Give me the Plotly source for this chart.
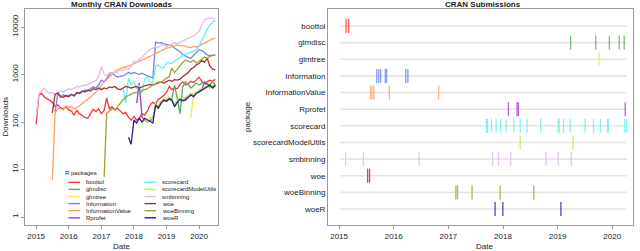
import pandas as pd
import plotly.graph_objects as go

# ---------------- data ----------------
packages = ["boottol", "glmdisc", "glmtree", "Information", "InformationValue", "Rprofet",
            "scorecard", "scorecardModelUtils", "smbinning", "woe", "woeBinning", "woeR"]
colors = ["#FF3333", "#55B055", "#FFE24D", "#6B87E8", "#FFA060", "#A63CC8",
          "#66F0F0", "#C4F020", "#E6B8F5", "#A03232", "#A3A334", "#22228C"]

# first month of monthly download series (all end 2020-07)
start_month = {
    "boottol": "2015-01", "glmdisc": "2019-03", "glmtree": "2019-10", "Information": "2015-08",
    "InformationValue": "2015-07", "Rprofet": "2018-02", "scorecard": "2017-09",
    "scorecardModelUtils": "2018-04", "smbinning": "2015-01", "woe": "2015-07",
    "woeBinning": "2017-02", "woeR": "2017-11",
}

dl_boottol = [90, 370, 400, 340, 310, 290, 260, 210, 230, 200, 190, 210,
              180, 170, 140, 175, 150, 135, 125, 120, 150, 185, 165, 190,
              150, 175, 320, 190, 210, 180, 195, 170, 150, 160, 125, 110,
              130, 110, 120, 150, 140, 170, 230, 260, 240, 300, 330, 360,
              420, 560, 480, 520, 500, 620, 700, 600, 640, 720, 680, 760,
              880, 720, 650, 700, 760, 720, 790]
dl_glmdisc = [300, 600, 320, 150, 550, 700, 620, 520, 580, 660,
              600, 640, 700, 650, 600, 700, 600]
dl_glmtree = [120, 380, 420,
              450, 500, 480, 560, 520, 600, 580]
dl_information = [160, 400, 330, 380, 350,
                  360, 380, 350, 400, 420, 430, 470, 450, 500, 550, 520, 600,
                  760, 700, 820, 1000, 1100, 950, 880, 900, 950, 1000, 1100, 1050,
                  1100, 1050, 1000, 1070, 1000, 950, 900, 840, 4800, 4600, 4700, 4400,
                  4300, 4200, 4000, 3600, 3300, 3000, 2600, 2400, 2300, 2200, 2500, 2800,
                  3300, 3200, 2900, 2600, 2500, 2600, 2600]
dl_informationvalue = [6, 150, 200, 190, 180, 220,
                       200, 210, 190, 200, 220, 250, 270, 300, 330, 380, 420, 480,
                       600, 700, 800, 900, 1000, 1150, 1250, 1350, 1400, 1450, 1500, 1600,
                       1700, 1800, 1900, 2000, 2100, 2200, 2400, 2600, 2800, 3000, 3200, 3400,
                       3600, 3700, 3800, 4000, 4200, 4100, 4000, 3900, 3800, 3700, 3900, 3800,
                       4000, 4300, 4600, 5000, 5300, 5600, 5800]
dl_rprofet = [250, 660, 128, 110, 100, 105, 120, 230, 210, 260, 280,
              290, 300, 290, 220, 270, 310, 300, 310, 340, 380, 360, 420,
              450, 500, 660, 600, 550, 540, 560]
dl_scorecard = [520, 250, 840, 600,
                700, 500, 600, 400, 800, 900, 700, 660, 1500, 1600, 1400, 1370,
                1800, 1750, 1700, 1900, 2100, 2300, 2500, 2700, 2800, 3000, 3100, 3300,
                4000, 5300, 7000, 9000, 11000, 12500, 14000]
dl_scorecardmodelutils = [87, 120, 95, 128, 110, 240, 220, 270, 300,
                          320, 340, 300, 230, 280, 320, 300, 330, 360, 400, 380, 430,
                          460, 500, 550, 580, 520, 560, 550]
dl_smbinning = [130, 400, 450, 520, 430, 400, 420, 380, 400, 450, 430, 470,
                500, 480, 520, 560, 540, 600, 580, 620, 650, 700, 750, 900,
                1450, 1000, 950, 1100, 1050, 1150, 1100, 1250, 1200, 1400, 1300, 1500,
                1900, 1800, 2100, 2300, 2600, 2900, 3400, 3600, 3900, 3700, 4200, 4300,
                3900, 4100, 4300, 4600, 4500, 4800, 5000, 5400, 5800, 6000, 6500, 7200,
                8000, 11000, 14000, 15000, 15500, 15000, 15200]
dl_woe = [155, 380, 410, 350, 330, 360,
          340, 380, 360, 420, 400, 450, 430, 470, 450, 500, 480, 520,
          480, 520, 500, 550, 530, 560, 500, 480, 520, 560, 540, 520,
          540, 560, 520, 560, 580, 600, 620, 600, 640, 660, 700, 660,
          700, 760, 720, 780, 760, 800, 900, 1000, 1100, 1300, 1400, 1600,
          1700, 2000, 1800, 2200, 1500, 1300, 1250]
dl_woebinning = [7, 150, 170, 190, 180, 210, 250, 300, 340, 360, 390,
                 410, 420, 430, 460, 480, 500, 550, 600, 650, 700, 680, 760,
                 840, 900, 1370, 1100, 1300, 1500, 1800, 2000, 1900, 1800, 2000, 1750,
                 1900, 2100, 2300, 2200, 2400, 2500, 2600]
dl_woer = [48, 34,
           110, 95, 120, 100, 120, 110, 100, 95, 230, 195, 250, 290,
           270, 310, 290, 210, 260, 300, 280, 290, 330, 370, 340, 400,
           430, 470, 500, 560, 600, 520, 600]

downloads = {
    "boottol": dl_boottol, "glmdisc": dl_glmdisc, "glmtree": dl_glmtree,
    "Information": dl_information, "InformationValue": dl_informationvalue,
    "Rprofet": dl_rprofet, "scorecard": dl_scorecard,
    "scorecardModelUtils": dl_scorecardmodelutils, "smbinning": dl_smbinning,
    "woe": dl_woe, "woeBinning": dl_woebinning, "woeR": dl_woer,
}

# CRAN submission dates
sub_boottol = ["2015-02-17", "2015-03-06"]
sub_glmdisc = ["2019-03-29", "2019-09-13", "2019-12-13", "2020-02-17", "2020-03-21"]
sub_glmtree = ["2019-10-05"]
sub_information = ["2015-09-10", "2015-09-23", "2015-10-06", "2015-11-06", "2015-11-15",
                   "2016-03-22", "2016-04-05"]
sub_informationvalue = ["2015-07-31", "2015-08-09", "2015-08-22", "2015-12-03", "2016-10-28"]
sub_rprofet = ["2018-02-06", "2018-04-05", "2018-04-14", "2020-03-28"]
sub_scorecard = ["2017-09-12", "2017-09-19", "2017-10-16", "2017-11-16", "2017-12-17",
                 "2018-01-22", "2018-03-14", "2018-04-26", "2018-06-11", "2018-09-10",
                 "2019-01-05", "2019-01-11", "2019-02-10", "2019-03-26", "2019-07-04",
                 "2019-08-29", "2019-10-15", "2019-12-01", "2019-12-07", "2020-03-25",
                 "2020-04-06"]
sub_scorecardmodelutils = ["2018-04-26", "2019-04-15"]
sub_smbinning = ["2015-02-14", "2015-06-13", "2016-06-19", "2017-10-23", "2017-12-02",
                 "2018-02-22", "2018-10-16", "2019-01-05", "2019-04-02"]
sub_woe = ["2015-07-11", "2015-07-24"]
sub_woebinning = ["2017-02-20", "2017-03-03", "2017-06-08", "2017-12-13", "2018-07-26"]
sub_woer = ["2017-11-09", "2017-12-31", "2019-01-23"]

submissions = {
    "boottol": sub_boottol, "glmdisc": sub_glmdisc, "glmtree": sub_glmtree,
    "Information": sub_information, "InformationValue": sub_informationvalue,
    "Rprofet": sub_rprofet, "scorecard": sub_scorecard,
    "scorecardModelUtils": sub_scorecardmodelutils, "smbinning": sub_smbinning,
    "woe": sub_woe, "woeBinning": sub_woebinning, "woeR": sub_woer,
}
timeline_span = ["2015-01-08", "2020-04-08"]

year_ticks = [2015, 2016, 2017, 2018, 2019, 2020]
download_ticks = [1, 10, 100, 1000, 10000]

# ---------------- figure ----------------
W, H = 640, 251
FONT = "Liberation Sans, Arial, Helvetica, sans-serif"
TXT = "#1a1a1a"
FRAME = "#9a9a9a"


def px(x):
    return x / W


def py(y):
    return 1 - y / H


fig = go.Figure()

# left: monthly downloads
for pkg, col in zip(packages, colors):
    vals = downloads[pkg]
    dates = pd.date_range(start_month[pkg] + "-01", periods=len(vals), freq="MS")
    fig.add_trace(go.Scatter(x=dates, y=vals, mode="lines", line=dict(color=col, width=1.3),
                             xaxis="x", yaxis="y", showlegend=False, name=pkg))

# right: timeline rows
for pkg in packages:
    fig.add_trace(go.Scatter(x=timeline_span, y=[pkg, pkg], mode="lines",
                             line=dict(color="#e4e4e4", width=1.6),
                             xaxis="x2", yaxis="y2", showlegend=False, hoverinfo="skip"))
for pkg, col in zip(packages, colors):
    d = submissions[pkg]
    fig.add_trace(go.Scatter(x=d, y=[pkg] * len(d), mode="markers",
                             marker=dict(symbol="line-ns", size=10,
                                         line=dict(color=col, width=1.3)),
                             opacity=0.8, xaxis="x2", yaxis="y2", showlegend=False, name=pkg))

# custom compact legend (pixel-based overlay axis)
LEG_TITLE = (64, 173)
LEG_COLS = [68.5, 144.5]
LEG_ROW0, LEG_DY = 182.3, 7.1
SW_LEN, TXT_GAP = 11.5, 15.5
annotations = []
for i, (pkg, col) in enumerate(zip(packages, colors)):
    c, r = divmod(i, 6)
    x0 = LEG_COLS[c]
    yy = LEG_ROW0 + r * LEG_DY
    fig.add_trace(go.Scatter(x=[x0, x0 + SW_LEN], y=[yy, yy], mode="lines",
                             line=dict(color=col, width=1.4), xaxis="x3", yaxis="y3",
                             showlegend=False, hoverinfo="skip"))
    annotations.append(dict(text=pkg, x=px(x0 + TXT_GAP), y=py(yy), xref="paper", yref="paper",
                            xanchor="left", yanchor="middle", showarrow=False,
                            font=dict(size=6, color=TXT, family=FONT)))
annotations.append(dict(text="R packages", x=px(LEG_TITLE[0] - 1), y=py(LEG_TITLE[1]),
                        xref="paper", yref="paper", xanchor="left", yanchor="middle",
                        showarrow=False, font=dict(size=6, color=TXT, family=FONT)))

# titles
for text, x, y, size, bold, angle in [
    ("Monthly CRAN Downloads", 121.5, 4.5, 8, True, 0),
    ("CRAN Submissions", 483, 4.5, 8, True, 0),
    ("Date", 121.5, 246.5, 8, False, 0),
    ("Date", 484, 246.5, 8, False, 0),
    ("Downloads", 4.5, 117, 8, False, -90),
    ("package", 247, 117, 8, False, -90),
]:
    annotations.append(dict(text=f"<b>{text}</b>" if bold else text, x=px(x), y=py(y),
                            xref="paper", yref="paper", xanchor="center", yanchor="middle",
                            showarrow=False, textangle=angle,
                            font=dict(size=size, color=TXT, family=FONT)))

ydom = [py(225), py(9)]
common_ax = dict(showline=True, mirror=True, linecolor=FRAME, linewidth=1, showgrid=False,
                 zeroline=False, tickfont=dict(size=8, color=TXT, family=FONT),
                 ticks="outside", ticklen=3, tickcolor=FRAME, automargin=False)

fig.update_layout(
    width=W, height=H, margin=dict(l=0, r=0, t=0, b=0),
    paper_bgcolor="white", plot_bgcolor="rgba(0,0,0,0)",
    font=dict(family=FONT, color=TXT),
    annotations=annotations,
    xaxis=dict(domain=[px(25), px(218)], anchor="y", type="date",
               range=["2014-08-29", "2020-07-31"],
               tickvals=[f"{y}-01-01" for y in year_ticks], ticktext=[str(y) for y in year_ticks],
               **common_ax),
    yaxis=dict(domain=ydom, anchor="x", type="log", range=[-0.168, 4.379],
               tickvals=download_ticks, ticktext=[str(v) for v in download_ticks],
               tickangle=-90, **common_ax),
    xaxis2=dict(domain=[px(328), px(633)], anchor="y2", type="date",
                range=["2014-10-19", "2020-05-19"],
                tickvals=[f"{y}-01-01" for y in year_ticks], ticktext=[str(y) for y in year_ticks],
                **common_ax),
    yaxis2=dict(domain=ydom, anchor="x2", type="category", categoryorder="array",
                categoryarray=packages, range=[11.96, -1.02],
                **{**common_ax, "ticks": "", "ticklen": 0}),
    xaxis3=dict(domain=[0, 1], anchor="y3", range=[0, W], visible=False, fixedrange=True),
    yaxis3=dict(domain=[0, 1], anchor="x3", range=[H, 0], visible=False, fixedrange=True),
)

fig.write_html("out.html", config={"displayModeBar": False},
               post_script="document.body.style.margin='0';document.body.style.padding='0';")
